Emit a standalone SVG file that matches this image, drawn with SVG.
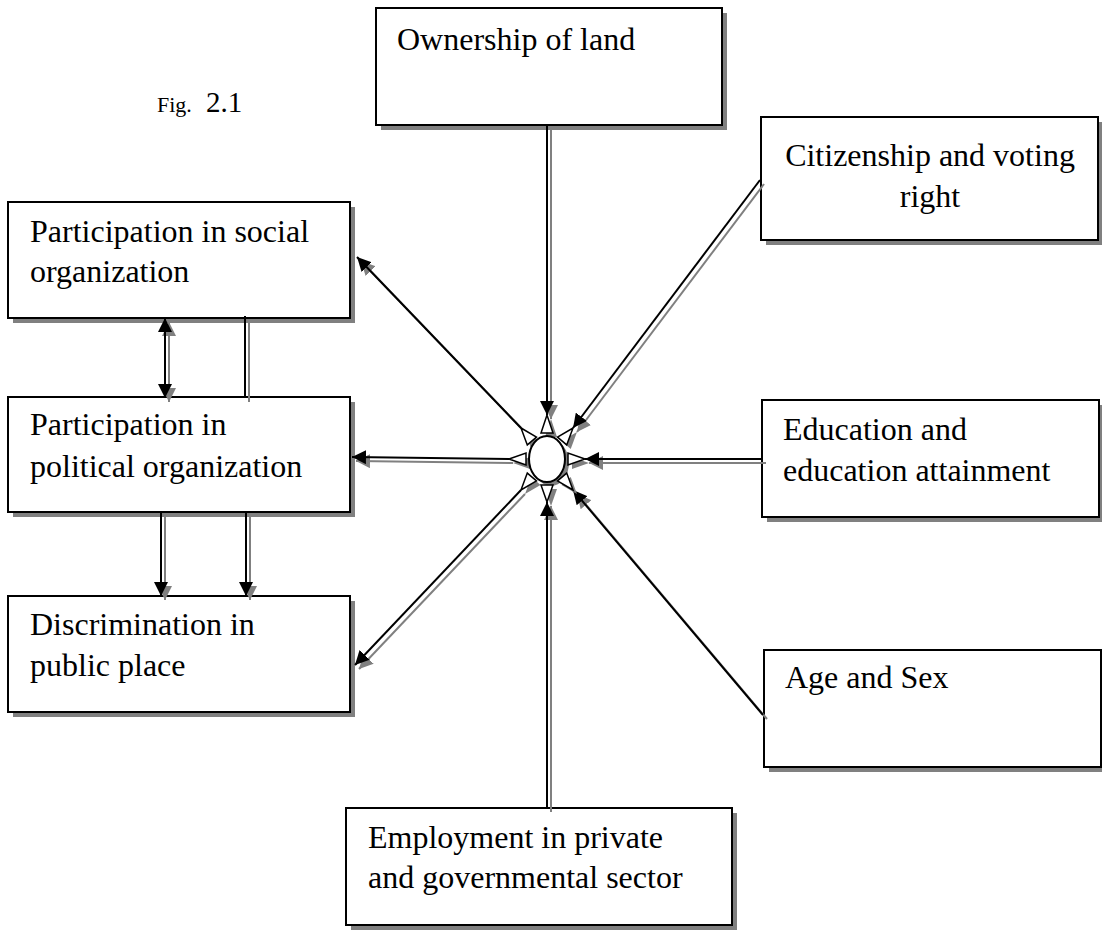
<svg xmlns="http://www.w3.org/2000/svg" width="1102" height="930" viewBox="0 0 1102 930">
<style>
.box{fill:#fff;stroke:#000;stroke-width:2}
.sh{fill:#808080;stroke:none}
.t{font-family:"Liberation Serif","Times New Roman",serif;font-size:32px;fill:#000}
.ln{fill:none;stroke:#000;stroke-width:2}
.lg{fill:none;stroke:#808080;stroke-width:2}
.hol{fill:#fff;stroke:#000;stroke-width:1.5}
</style>
<defs>
<marker id="ah" markerUnits="userSpaceOnUse" markerWidth="16" markerHeight="14" refX="14" refY="7" orient="auto-start-reverse"><path d="M0,0 L14,7 L0,14 z" fill="#000"/></marker>
<marker id="ahg" markerUnits="userSpaceOnUse" markerWidth="16" markerHeight="14" refX="14" refY="7" orient="auto-start-reverse"><path d="M0,0 L14,7 L0,14 z" fill="#808080"/></marker>
</defs>
<rect width="1102" height="930" fill="#fff"/>

<g id="fig-label"><text class="t" y="112"><tspan x="157" font-size="22">Fig.</tspan><tspan x="206" font-size="29">2.1</tspan></text></g>

<g id="ownership"><rect class="sh" x="381" y="13" width="346" height="117"/><rect class="box" x="376" y="8" width="346" height="117"/><text class="t" x="397" y="50">Ownership of land</text></g>
<g id="citizenship"><rect class="sh" x="766" y="122" width="337" height="123"/><rect class="box" x="761" y="117" width="337" height="123"/><text class="t" x="930" y="166" text-anchor="middle">Citizenship and voting</text><text class="t" x="930" y="207" text-anchor="middle">right</text></g>
<g id="education"><rect class="sh" x="767" y="405" width="337" height="117"/><rect class="box" x="762" y="400" width="337" height="117"/><text class="t" x="783" y="440">Education and</text><text class="t" x="783" y="481">education attainment</text></g>
<g id="age-sex"><rect class="sh" x="769" y="655" width="337" height="117"/><rect class="box" x="764" y="650" width="337" height="117"/><text class="t" x="785" y="688">Age and Sex</text></g>
<g id="employment"><rect class="sh" x="351" y="813" width="386" height="117"/><rect class="box" x="346" y="808" width="386" height="117"/><text class="t" x="368" y="848">Employment in private</text><text class="t" x="368" y="888">and governmental sector</text></g>
<g id="social"><rect class="sh" x="13" y="207" width="342" height="116"/><rect class="box" x="8" y="202" width="342" height="116"/><text class="t" x="30" y="242">Participation in social</text><text class="t" x="30" y="282">organization</text></g>
<g id="political"><rect class="sh" x="13" y="402" width="342" height="115"/><rect class="box" x="8" y="397" width="342" height="115"/><text class="t" x="30" y="435">Participation in</text><text class="t" x="30" y="477">political organization</text></g>
<g id="discrimination"><rect class="sh" x="13" y="601" width="342" height="116"/><rect class="box" x="8" y="596" width="342" height="116"/><text class="t" x="30" y="635">Discrimination in</text><text class="t" x="30" y="676">public place</text></g>

<g id="connectors">
<g transform="translate(4,4)">
<path class="lg" d="M547,125 L547,415" marker-end="url(#ahg)"/>
<path class="lg" d="M760,180 L573,428" marker-end="url(#ahg)"/>
<path class="lg" d="M762,459 L585,459" marker-end="url(#ahg)"/>
<path class="lg" d="M763,715 L573,490" marker-end="url(#ahg)"/>
<path class="lg" d="M547,808 L547,502" marker-end="url(#ahg)"/>
<path class="lg" d="M509,459 L352,457" marker-end="url(#ahg)"/>
<path class="lg" d="M521,428 L357,257" marker-end="url(#ahg)"/>
<path class="lg" d="M521,490 L355,665" marker-end="url(#ahg)"/>
<path class="lg" d="M165,318 L165,398" marker-start="url(#ahg)" marker-end="url(#ahg)"/>
<path class="lg" d="M245,316 L245,398"/>
<path class="lg" d="M161,512 L161,596" marker-end="url(#ahg)"/>
<path class="lg" d="M246,512 L246,596" marker-end="url(#ahg)"/>
</g>
<path class="ln" d="M547,125 L547,415" marker-end="url(#ah)"/>
<path class="ln" d="M760,180 L573,428" marker-end="url(#ah)"/>
<path class="ln" d="M762,459 L585,459" marker-end="url(#ah)"/>
<path class="ln" d="M763,715 L573,490" marker-end="url(#ah)"/>
<path class="ln" d="M547,808 L547,502" marker-end="url(#ah)"/>
<path class="ln" d="M509,459 L352,457" marker-end="url(#ah)"/>
<path class="ln" d="M521,428 L357,257" marker-end="url(#ah)"/>
<path class="ln" d="M521,490 L355,665" marker-end="url(#ah)"/>
<path class="ln" d="M165,318 L165,398" marker-start="url(#ah)" marker-end="url(#ah)"/>
<path class="ln" d="M245,316 L245,398"/>
<path class="ln" d="M161,512 L161,596" marker-end="url(#ah)"/>
<path class="ln" d="M246,512 L246,596" marker-end="url(#ah)"/>
</g>

<g id="hub">
<g transform="translate(4,4)" fill="#808080">
<ellipse cx="547" cy="459" rx="18" ry="23"/>
<polygon points="547,415 541,433 553,433"/>
<polygon points="573,428 566.7,444.9 557.5,437.1"/>
<polygon points="585,459 568,453 568,465"/>
<polygon points="573,490 557.5,480.9 566.7,473.1"/>
<polygon points="547,502 541,485 553,485"/>
<polygon points="521,490 527.3,473.1 536.5,480.9"/>
<polygon points="509,459 526,453 526,465"/>
<polygon points="521,428 536.5,437.1 527.3,444.9"/>
</g>
<ellipse cx="547" cy="459" rx="18" ry="23" fill="#fff" stroke="#000" stroke-width="2"/>
<polygon class="hol" points="547,415 541,433 553,433"/>
<polygon class="hol" points="573,428 566.7,444.9 557.5,437.1"/>
<polygon class="hol" points="585,459 568,453 568,465"/>
<polygon class="hol" points="573,490 557.5,480.9 566.7,473.1"/>
<polygon class="hol" points="547,502 541,485 553,485"/>
<polygon class="hol" points="521,490 527.3,473.1 536.5,480.9"/>
<polygon class="hol" points="509,459 526,453 526,465"/>
<polygon class="hol" points="521,428 536.5,437.1 527.3,444.9"/>
</g>
</svg>
